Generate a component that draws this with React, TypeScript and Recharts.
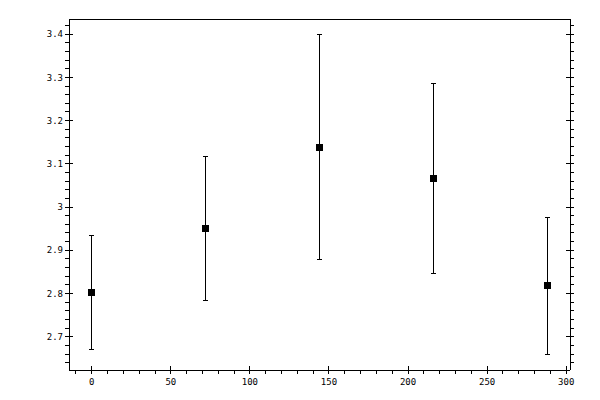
import { ErrorBar, Scatter, ScatterChart, XAxis, YAxis } from "recharts";

// measurements
const xValues = [0, 72, 144, 216, 288];
const yValues = [2.802, 2.95, 3.138, 3.066, 2.818];
const yErrors = [0.131, 0.167, 0.26, 0.219, 0.158];

// tick positions (minor) and labelled (major) ticks
const xTicks = [
    -10, 0, 10, 20, 30, 40, 50, 60, 70, 80, 90, 100, 110, 120, 130, 140, 150,
    160, 170, 180, 190, 200, 210, 220, 230, 240, 250, 260, 270, 280, 290, 300,
];
const xLabels = [0, 50, 100, 150, 200, 250, 300];
const yTicks = [
    2.64, 2.66, 2.68, 2.7, 2.72, 2.74, 2.76, 2.78, 2.8, 2.82, 2.84, 2.86, 2.88,
    2.9, 2.92, 2.94, 2.96, 2.98, 3, 3.02, 3.04, 3.06, 3.08, 3.1, 3.12, 3.14,
    3.16, 3.18, 3.2, 3.22, 3.24, 3.26, 3.28, 3.3, 3.32, 3.34, 3.36, 3.38, 3.4,
    3.42,
];
const yLabels = [2.7, 2.8, 2.9, 3, 3.1, 3.2, 3.3, 3.4];

const xDomain: [number, number] = [-14.4, 302.4];
const yDomain: [number, number] = [2.623, 3.435];

const data = xValues.map((x, i) => ({ x, y: yValues[i], err: yErrors[i] }));

const font = "'DejaVu Sans Mono', monospace";
const axisStyle = { stroke: "#000", strokeWidth: 1, shapeRendering: "crispEdges" };

const isMajor = (list: number[], v: number) =>
    list.some((m) => Math.abs(m - v) < 1e-6);

const XTick = (props: any) => {
    const { x, y, payload, side } = props;
    const major = isMajor(xLabels, payload.value);
    const dir = side === "bottom" ? 1 : -1;
    return (
        <g>
            <line
                x1={x}
                x2={x}
                y1={major ? y - 4 * dir : y}
                y2={y + 4 * dir}
                stroke="#000"
                shapeRendering="crispEdges"
            />
            {major && side === "bottom" && (
                <text
                    x={x}
                    y={y + 15}
                    textAnchor="middle"
                    fontSize={9}
                    fontFamily={font}
                    fill="#000"
                >
                    {payload.value}
                </text>
            )}
        </g>
    );
};

const YTick = (props: any) => {
    const { x, y, payload, side } = props;
    const major = isMajor(yLabels, payload.value);
    const dir = side === "left" ? -1 : 1;
    return (
        <g>
            <line
                x1={major ? x - 4 * dir : x}
                x2={x + 4 * dir}
                y1={y}
                y2={y}
                stroke="#000"
                shapeRendering="crispEdges"
            />
            {major && side === "left" && (
                <text
                    x={x - 6}
                    y={y}
                    dy="0.35em"
                    textAnchor="end"
                    fontSize={9}
                    fontFamily={font}
                    fill="#000"
                >
                    {String(Number(payload.value.toFixed(2)))}
                </text>
            )}
        </g>
    );
};

const Square = (props: any) => {
    const { cx, cy } = props;
    return (
        <rect
            x={cx - 3.5}
            y={cy - 3.5}
            width={7}
            height={7}
            fill="#000"
            shapeRendering="crispEdges"
        />
    );
};

export default function App() {
    return (
        <div
            style={{
                position: "absolute",
                left: 0,
                top: 0,
                width: 600,
                height: 400,
                background: "#fff",
            }}
        >
            <style>{`.recharts-errorBar line { shape-rendering: crispEdges; }`}</style>
            <ScatterChart
                width={600}
                height={400}
                margin={{ top: 9, right: 0, bottom: 0, left: 0 }}
            >
                <XAxis
                    xAxisId="bottom"
                    orientation="bottom"
                    type="number"
                    dataKey="x"
                    domain={xDomain}
                    allowDataOverflow
                    ticks={xTicks}
                    interval={0}
                    height={30}
                    tickSize={0}
                    tickMargin={0}
                    tickLine={false}
                    axisLine={axisStyle}
                    tick={(p: any) => <XTick {...p} side="bottom" />}
                />
                <XAxis
                    xAxisId="top"
                    orientation="top"
                    type="number"
                    domain={xDomain}
                    allowDataOverflow
                    ticks={xTicks}
                    interval={0}
                    height={10}
                    tickSize={0}
                    tickMargin={0}
                    tickLine={false}
                    axisLine={axisStyle}
                    tick={(p: any) => <XTick {...p} side="top" />}
                />
                <YAxis
                    yAxisId="left"
                    orientation="left"
                    type="number"
                    dataKey="y"
                    domain={yDomain}
                    allowDataOverflow
                    ticks={yTicks}
                    interval={0}
                    width={69}
                    tickSize={0}
                    tickMargin={0}
                    tickLine={false}
                    axisLine={axisStyle}
                    tick={(p: any) => <YTick {...p} side="left" />}
                />
                <YAxis
                    yAxisId="right"
                    orientation="right"
                    type="number"
                    domain={yDomain}
                    allowDataOverflow
                    ticks={yTicks}
                    interval={0}
                    width={30}
                    tickSize={0}
                    tickMargin={0}
                    tickLine={false}
                    axisLine={axisStyle}
                    tick={(p: any) => <YTick {...p} side="right" />}
                />
                <Scatter
                    data={data}
                    xAxisId="bottom"
                    yAxisId="left"
                    dataKey="y"
                    shape={Square}
                    isAnimationActive={false}
                >
                    <ErrorBar
                        dataKey="err"
                        direction="y"
                        width={2.5}
                        stroke="#000"
                        strokeWidth={1}
                        isAnimationActive={false}
                    />
                </Scatter>
            </ScatterChart>
        </div>
    );
}
